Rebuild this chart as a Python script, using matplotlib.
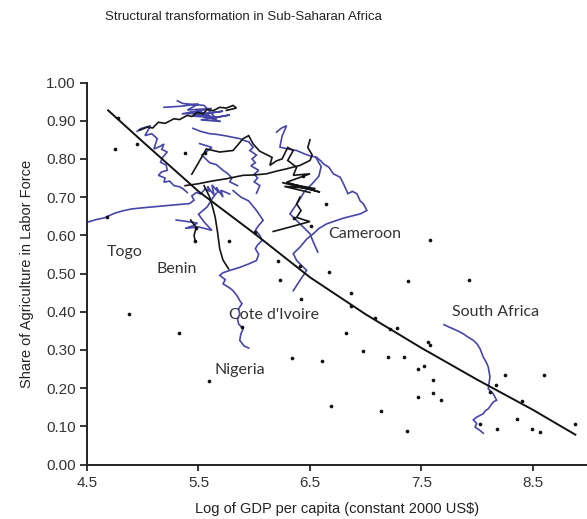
import matplotlib
matplotlib.use("Agg")
import matplotlib.pyplot as plt

# --- data ---
x_ticks = [4.5, 5.5, 6.5, 7.5, 8.5]
y_ticks = [0.0, 0.1, 0.2, 0.3, 0.4, 0.5, 0.6, 0.7, 0.8, 0.9, 1.0]

# fitted curve (read points)
fit_x = [4.69, 5.0, 5.5, 6.0, 6.5, 7.0, 7.5, 8.0, 8.5, 8.88]
fit_y = [0.927, 0.845, 0.715, 0.605, 0.49, 0.393, 0.305, 0.222, 0.143, 0.078]

# cross-country points
dot_x = [4.751, 4.945, 4.775, 5.379, 5.558, 4.682, 5.776, 6.216, 6.231, 6.007,
         6.643, 6.357, 6.506, 6.670, 7.382, 7.929, 7.576, 6.410, 6.865, 6.868,
         7.083, 7.218, 7.278, 6.823, 7.561, 7.576, 6.605, 6.972, 7.202, 7.343,
         7.466, 7.522, 7.600, 8.249, 8.601, 8.165, 7.466, 7.600, 7.672, 6.688,
         7.137, 8.398, 8.354, 8.025, 8.174, 8.491, 8.563, 8.877, 7.367, 6.419,
         5.890, 6.341, 4.880, 5.328, 5.594, 6.44, 5.48, 5.47, 8.11]
dot_y = [0.826, 0.839, 0.907, 0.815, 0.815, 0.649, 0.584, 0.532, 0.483, 0.608,
         0.682, 0.645, 0.624, 0.503, 0.480, 0.483, 0.588, 0.520, 0.449, 0.414,
         0.383, 0.355, 0.357, 0.344, 0.320, 0.312, 0.272, 0.296, 0.281, 0.281,
         0.249, 0.257, 0.220, 0.233, 0.233, 0.209, 0.176, 0.188, 0.170, 0.153,
         0.141, 0.165, 0.120, 0.105, 0.092, 0.092, 0.085, 0.105, 0.088, 0.432,
         0.361, 0.278, 0.394, 0.344, 0.218, 0.755, 0.62, 0.585, 0.19]

# country trajectories over time
togo_x = [4.50, 4.58, 4.66, 4.68, 4.75, 4.82, 4.90, 5.0, 5.15, 5.30, 5.42, 5.46, 5.44, 5.48, 5.52, 5.56,
          5.60, 5.58, 5.64, 5.62, 5.68, 5.66, 5.72, 5.70, 5.78]
togo_y = [0.634, 0.641, 0.646, 0.649, 0.658, 0.664, 0.669, 0.672, 0.676, 0.680, 0.683, 0.692, 0.703, 0.712, 0.708,
          0.722, 0.715, 0.728, 0.705, 0.732, 0.712, 0.725, 0.700, 0.718, 0.708]

benin_x = [4.95, 4.98, 5.07, 5.02, 5.08, 5.13, 5.10, 5.15, 5.19, 5.17, 5.22, 5.18, 5.16, 5.21, 5.22, 5.17,
           5.14, 5.20, 5.19, 5.24, 5.28, 5.33, 5.36, 5.40]
benin_y = [0.872, 0.879, 0.887, 0.861, 0.866, 0.853, 0.826, 0.832, 0.839, 0.825, 0.818, 0.805, 0.791, 0.784,
           0.770, 0.766, 0.757, 0.750, 0.739, 0.742, 0.730, 0.727, 0.722, 0.712]

top_blue_x = [5.19, 5.35, 5.50, 5.40, 5.62, 5.35, 5.58, 5.72, 5.45, 5.65, 5.78, 5.52, 5.70, 5.42, 5.60,
              5.48, 5.66, 5.55, 5.36, 5.31]
top_blue_y = [0.935, 0.938, 0.944, 0.928, 0.932, 0.918, 0.920, 0.925, 0.912, 0.908, 0.915, 0.902, 0.898,
              0.922, 0.912, 0.928, 0.905, 0.940, 0.945, 0.952]

top_black_x = [4.97, 5.04, 5.09, 5.14, 5.20, 5.28, 5.33, 5.40, 5.44, 5.49, 5.54, 5.58, 5.63, 5.69, 5.75,
               5.81, 5.84, 5.75]
top_black_y = [0.875, 0.883, 0.881, 0.896, 0.893, 0.905, 0.903, 0.914, 0.911, 0.922, 0.918, 0.930, 0.926,
               0.935, 0.933, 0.940, 0.933, 0.927]

mid_blue_x = [5.45, 5.52, 5.60, 5.67, 5.75, 5.80, 5.87, 5.92, 5.95, 5.99, 5.96, 6.02, 5.98, 6.01, 5.97,
              6.04, 6.00, 6.03, 6.00, 6.05, 6.02]
mid_blue_y = [0.880, 0.872, 0.866, 0.864, 0.860, 0.857, 0.853, 0.847, 0.845, 0.830, 0.822, 0.810, 0.800,
              0.790, 0.782, 0.770, 0.760, 0.750, 0.740, 0.730, 0.710]

cam_blue_x = [6.20, 6.24, 6.29, 6.25, 6.23, 6.30, 6.38, 6.46, 6.50, 6.56, 6.60, 6.62, 6.67, 6.71, 6.77,
              6.80, 6.84, 6.88, 6.92, 6.95, 6.98, 7.01, 6.95, 6.80, 6.65, 6.58, 6.53, 6.47, 6.41, 6.35,
              6.38, 6.47, 6.41, 6.35]
cam_blue_y = [0.870, 0.880, 0.887, 0.860, 0.831, 0.826, 0.822, 0.812, 0.808, 0.804, 0.794, 0.787, 0.778,
              0.761, 0.752, 0.735, 0.709, 0.715, 0.709, 0.690, 0.682, 0.665, 0.656, 0.645, 0.630, 0.618,
              0.604, 0.590, 0.569, 0.552, 0.534, 0.508, 0.482, 0.455]

cam2_blue_x = [6.55, 6.60, 6.58, 6.52, 6.45, 6.40, 6.32, 6.41, 6.50, 6.53, 6.57]
cam2_blue_y = [0.805, 0.780, 0.755, 0.735, 0.715, 0.690, 0.656, 0.630, 0.604, 0.582, 0.556]

civ_x = [5.81, 5.88, 5.95, 6.02, 6.05, 6.08, 6.04, 6.01, 6.05, 6.07, 6.03, 6.01, 6.04, 6.02, 5.95,
         5.87, 5.78, 5.72, 5.69, 5.74, 5.72, 5.78, 5.81, 5.85, 5.87, 5.89, 5.86, 5.87, 5.85, 5.86,
         5.90, 5.88, 5.87, 5.91, 5.95]
civ_y = [0.717, 0.700, 0.690, 0.665, 0.652, 0.639, 0.626, 0.613, 0.600, 0.586, 0.575, 0.565, 0.550,
         0.534, 0.525, 0.516, 0.508, 0.502, 0.495, 0.484, 0.473, 0.462, 0.455, 0.440, 0.429, 0.421,
         0.408, 0.394, 0.380, 0.368, 0.355, 0.342, 0.325, 0.310, 0.305]

low_blue_x = [5.30, 5.40, 5.49, 5.45, 5.38, 5.50, 5.62, 5.55, 5.50, 5.58, 5.62, 5.66]
low_blue_y = [0.640, 0.636, 0.632, 0.625, 0.618, 0.622, 0.613, 0.635, 0.655, 0.675, 0.695, 0.710]

loop_blue_x = [5.51, 5.62, 5.53, 5.60, 5.66, 5.72, 5.76, 5.80, 5.78, 5.85]
loop_blue_y = [0.840, 0.830, 0.810, 0.790, 0.785, 0.770, 0.762, 0.750, 0.740, 0.730]

sa_x = [7.702, 7.745, 7.785, 7.830, 7.875, 7.920, 7.965, 8.000, 8.025, 8.040, 8.054, 8.080, 8.099,
        8.114, 8.105, 8.099, 8.144, 8.174, 8.150, 8.130, 8.115, 8.099, 8.070, 8.054, 7.995, 7.965,
        7.995, 7.980, 8.025, 8.054]
sa_y = [0.366, 0.360, 0.355, 0.349, 0.342, 0.333, 0.325, 0.315, 0.303, 0.292, 0.281, 0.268, 0.255,
        0.229, 0.212, 0.198, 0.185, 0.168, 0.165, 0.159, 0.152, 0.146, 0.140, 0.133, 0.124, 0.117,
        0.107, 0.098, 0.089, 0.082]

black_down_x = [5.55, 5.60, 5.63, 5.65, 5.67, 5.69, 5.72, 5.77]
black_down_y = [0.730, 0.700, 0.670, 0.647, 0.610, 0.565, 0.535, 0.512]

black_short_x = [5.43, 5.48, 5.46, 5.47]
black_short_y = [0.640, 0.620, 0.600, 0.585]

black_main_x = [5.38, 5.50, 5.62, 5.75, 5.90, 6.00, 6.11, 6.20, 6.29, 6.41, 6.50, 6.52, 6.48, 6.50]
black_main_y = [0.730, 0.735, 0.742, 0.748, 0.757, 0.758, 0.761, 0.768, 0.774, 0.783, 0.796, 0.810, 0.830, 0.850]

black_up_x = [5.44, 5.50, 5.57, 5.69, 5.81, 5.90, 5.95, 5.99, 6.05, 6.16, 6.14, 6.20, 6.25, 6.30, 6.35,
              6.30, 6.38, 6.35, 6.50, 6.29, 6.59, 6.25, 6.55, 6.27, 6.50]
black_up_y = [0.760, 0.790, 0.826, 0.818, 0.822, 0.853, 0.861, 0.839, 0.820, 0.804, 0.783, 0.795, 0.800,
              0.830, 0.822, 0.796, 0.778, 0.757, 0.761, 0.739, 0.713, 0.738, 0.722, 0.728, 0.712]

black_h_x = [6.41, 6.38, 6.42, 6.38, 6.45, 6.50, 6.40, 6.30, 6.17]
black_h_y = [0.700, 0.682, 0.665, 0.647, 0.640, 0.636, 0.628, 0.620, 0.610]

paths = [
    ("blue", togo_x, togo_y), ("blue", benin_x, benin_y), ("blue", top_blue_x, top_blue_y),
    ("black", top_black_x, top_black_y), ("blue", mid_blue_x, mid_blue_y),
    ("blue", cam_blue_x, cam_blue_y), ("blue", cam2_blue_x, cam2_blue_y),
    ("blue", civ_x, civ_y), ("blue", low_blue_x, low_blue_y), ("blue", loop_blue_x, loop_blue_y),
    ("blue", sa_x, sa_y), ("black", black_down_x, black_down_y),
    ("black", black_short_x, black_short_y), ("black", black_main_x, black_main_y),
    ("black", black_up_x, black_up_y), ("black", black_h_x, black_h_y),
]

labels = ["Togo", "Benin", "Cameroon", "Cote d'Ivoire", "Nigeria", "South Africa"]
label_x = [4.68, 5.12, 6.66, 5.77, 5.64, 7.77]
label_y = [0.556, 0.512, 0.604, 0.392, 0.248, 0.399]

colors = {"blue": "#4646a8", "black": "#151515"}

fig = plt.figure(figsize=(5.87, 5.19), dpi=100)
ax = fig.add_axes([87 / 587, 54.5 / 519, 500 / 587, 382 / 519])

for key, px, py in paths:
    ax.plot(px, py, color=colors[key], lw=1.2, zorder=2, solid_joinstyle="miter")

ax.plot(fit_x, fit_y, color="#111111", lw=1.4, zorder=3)
ax.scatter(dot_x, dot_y, s=7, color="#111111", zorder=4, linewidths=0)

for t, lx, ly in zip(labels, label_x, label_y):
    ax.text(lx, ly, t, fontsize=11.5, family="Lato", color="#333333", va="center", ha="left")

ax.set_xlim(4.5, 4.5 + 500 / 111.5)
ax.set_ylim(0, 1.0)
ax.set_xticks(x_ticks)
ax.set_xticklabels(["%.1f" % v for v in x_ticks])
ax.set_yticks(y_ticks)
ax.set_yticklabels(["%.2f" % v for v in y_ticks])
ax.spines["top"].set_visible(False)
ax.spines["right"].set_visible(False)
for s in ["left", "bottom"]:
    ax.spines[s].set_linewidth(1.4)
    ax.spines[s].set_color("#222222")
ax.tick_params(axis="y", direction="out", length=5, width=1.1, labelsize=11,
               labelcolor="#333333", pad=3)
ax.tick_params(axis="x", direction="out", length=4, width=1.1, labelsize=11,
               labelcolor="#333333", pad=4)
for lab in ax.get_xticklabels() + ax.get_yticklabels():
    lab.set_family("Liberation Sans")

ax.set_xlabel("Log of GDP per capita (constant 2000 US$)", fontsize=10.5,
              family="Liberation Sans", color="#222222", labelpad=9)
ax.set_ylabel("Share of Agriculture in Labor Force", fontsize=10.5,
              family="Liberation Sans", color="#222222", labelpad=9)

fig.text(243 / 587, 1 - 17 / 519, "Structural transformation in Sub-Saharan Africa",
         fontsize=9.5, family="Liberation Sans", color="#222222", ha="center", va="center")

fig.savefig("out.png", dpi=100)
